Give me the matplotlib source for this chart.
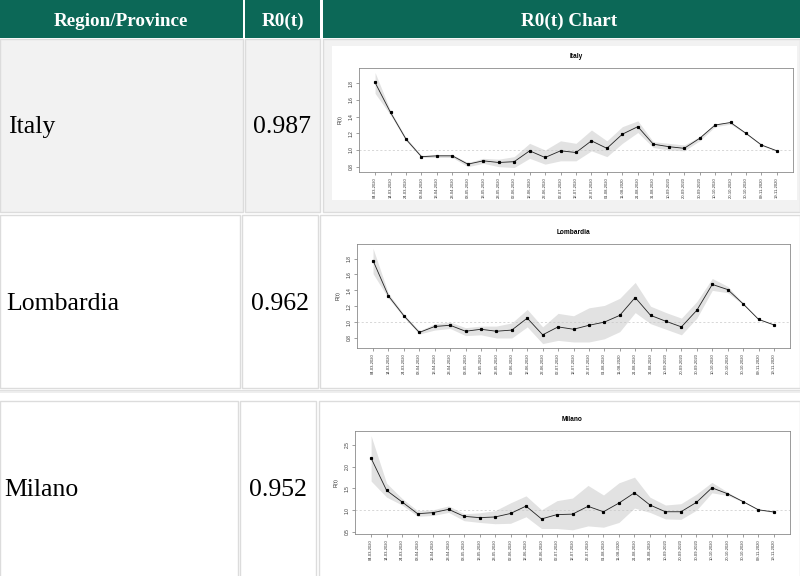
import matplotlib
matplotlib.use("Agg")
import matplotlib.pyplot as plt
from matplotlib.patches import Rectangle

# ======================
# data
# ======================
dates = ["04-03-2020", "14-03-2020", "24-03-2020", "03-04-2020", "13-04-2020",
         "23-04-2020", "03-05-2020", "13-05-2020", "23-05-2020", "02-06-2020",
         "12-06-2020", "22-06-2020", "02-07-2020", "12-07-2020", "22-07-2020",
         "01-08-2020", "11-08-2020", "21-08-2020", "31-08-2020", "10-09-2020",
         "20-09-2020", "30-09-2020", "10-10-2020", "20-10-2020", "30-10-2020",
         "09-11-2020", "19-11-2020"]

regions = ["Italy", "Lombardia", "Milano"]
r0_last = ["0.987", "0.962", "0.952"]

italy_r = [1.81, 1.45, 1.13, 0.92, 0.93, 0.93, 0.83, 0.87, 0.85, 0.86,
           0.99, 0.91, 0.99, 0.97, 1.11, 1.02, 1.19, 1.28, 1.07, 1.04,
           1.02, 1.14, 1.30, 1.33, 1.20, 1.06, 0.99]
italy_lo = [1.68, 1.42, 1.11, 0.91, 0.91, 0.91, 0.80, 0.84, 0.80, 0.79,
            0.90, 0.83, 0.87, 0.87, 0.99, 0.92, 1.08, 1.21, 1.03, 1.00,
            0.99, 1.11, 1.28, 1.31, 1.19, 1.05, 0.985]
italy_hi = [1.93, 1.47, 1.15, 0.935, 0.945, 0.945, 0.85, 0.90, 0.89, 0.92,
            1.08, 1.00, 1.11, 1.08, 1.24, 1.11, 1.28, 1.35, 1.10, 1.08,
            1.06, 1.16, 1.31, 1.34, 1.205, 1.065, 0.995]

lomb_r = [1.775, 1.33, 1.08, 0.87, 0.945, 0.96, 0.885, 0.91, 0.885, 0.90,
          1.05, 0.84, 0.94, 0.91, 0.96, 1.00, 1.085, 1.31, 1.085, 1.01,
          0.94, 1.15, 1.475, 1.41, 1.23, 1.035, 0.965]
lomb_lo = [1.61, 1.30, 1.06, 0.85, 0.90, 0.92, 0.83, 0.84, 0.80, 0.80,
           0.94, 0.73, 0.77, 0.75, 0.75, 0.79, 0.88, 1.12, 0.98, 0.91,
           0.84, 1.05, 1.40, 1.37, 1.22, 1.03, 0.96]
lomb_hi = [1.93, 1.36, 1.10, 0.89, 0.98, 1.00, 0.93, 0.95, 0.95, 0.99,
           1.16, 0.94, 1.11, 1.08, 1.18, 1.21, 1.30, 1.50, 1.20, 1.12,
           1.05, 1.26, 1.55, 1.45, 1.24, 1.04, 0.97]

milano_r = [2.195, 1.455, 1.19, 0.92, 0.945, 1.02, 0.86, 0.83, 0.845, 0.925,
            1.095, 0.80, 0.90, 0.91, 1.09, 0.965, 1.165, 1.40, 1.12, 0.965,
            0.965, 1.18, 1.515, 1.38, 1.20, 1.01, 0.96]
milano_lo = [1.67, 1.30, 1.12, 0.86, 0.88, 0.95, 0.76, 0.72, 0.69, 0.70,
             0.85, 0.58, 0.58, 0.55, 0.64, 0.61, 0.72, 1.05, 0.95, 0.80,
             0.79, 1.00, 1.40, 1.34, 1.19, 1.00, 0.95]
milano_hi = [2.71, 1.62, 1.27, 0.99, 1.01, 1.10, 0.92, 0.94, 0.99, 1.17,
             1.33, 1.01, 1.22, 1.28, 1.57, 1.35, 1.63, 1.76, 1.30, 1.12,
             1.15, 1.37, 1.64, 1.42, 1.21, 1.02, 0.97]

GREEN = "#0c6857"
BORDER = "#dcdcdc"
SERIF = "Liberation Serif"
SANS = "Liberation Sans"


def px_axes(fig, x0, y0, x1, y1):
    # pixel box (top-left origin) -> figure fraction
    return fig.add_axes([x0 / 800, 1 - y1 / 576, (x1 - x0) / 800, (y1 - y0) / 576])


def draw_chart(ax, title, r, lo, hi, ylim, yticks):
    x = list(range(len(dates)))
    ax.fill_between(x, lo, hi, color="#e2e2e2", linewidth=0, zorder=1)
    ax.axhline(1.0, color="#c8c8c8", linestyle=(0, (3, 3)), linewidth=0.5, zorder=2)
    ax.plot(x, r, color="#222222", linewidth=0.6, zorder=3)
    ax.plot(x, r, "s", color="black", markersize=1.3, zorder=4)

    ax.set_xlim(-1.04, len(dates) - 1 + 1.04)
    ax.set_ylim(*ylim)
    ax.set_xticks(x)
    ax.set_xticklabels(dates, rotation=90, fontsize=3.0, family=SANS, color="#333333")
    ax.set_yticks(yticks)
    ax.set_yticklabels([f"{v:.1f}" for v in yticks], rotation=90, va="center",
                       fontsize=3.5, family=SANS, color="#333333")
    ax.tick_params(length=2, width=0.4, color="#555555", pad=2)
    for s in ax.spines.values():
        s.set_color("#8a8a8a")
        s.set_linewidth(0.6)
    ax.set_ylabel("R(t)", fontsize=3.8, family=SANS, color="#333333", labelpad=4)
    ax.set_title(title, fontsize=4.7, fontweight="bold", family=SANS, pad=7)


fig = plt.figure(figsize=(8, 5.76), dpi=100)
bg = fig.add_axes([0, 0, 1, 1])
bg.set_xlim(0, 800)
bg.set_ylim(576, 0)
bg.axis("off")

# ---------- header ----------
bg.add_patch(Rectangle((0, 0), 800, 38, facecolor=GREEN, edgecolor="none"))
bg.add_patch(Rectangle((243, 0), 2, 38, facecolor="white", edgecolor="none"))
bg.add_patch(Rectangle((320, 0), 2.5, 38, facecolor="white", edgecolor="none"))
hdr = dict(color="white", fontsize=13.8, fontweight="bold", family=SERIF,
           ha="center", va="baseline")
bg.text(121, 26, "Region/Province", **hdr)
bg.text(283, 26, "R0(t)", **hdr)
bg.text(569, 26, "R0(t) Chart", **hdr)

# ---------- table cells ----------
# (top, bottom, col borders, background)
rows = [
    (39, 212, [0, 243, 245, 320, 323, 800], "#f2f2f2"),
    (215, 388, [0, 239.5, 241.5, 317.5, 320, 800], "white"),
    (401, 578, [0, 237.5, 239.5, 316, 319, 800], "white"),
]
for top, bottom, cols, fc in rows:
    for c0, c1 in [(cols[0], cols[1]), (cols[2], cols[3]), (cols[4], cols[5])]:
        bg.add_patch(Rectangle((c0, top), c1 - c0, bottom - top,
                               facecolor=fc, edgecolor=BORDER, linewidth=1.0))

# band between row 2 and row 3
bg.add_patch(Rectangle((0, 390), 800, 3, facecolor="#eeeeee", edgecolor="none"))
bg.plot([0, 800], [389.5, 389.5], color="#e0e0e0", linewidth=0.8)

# white picture area of the first chart
bg.add_patch(Rectangle((332, 46), 465, 154, facecolor="white", edgecolor="none"))

cell = dict(fontsize=18.5, family=SERIF, color="black", va="baseline")
baselines = [133, 310, 496]
lefts = [8, 6, 4]
centers = [282.5, 279.5, 277.5]
for name, val, yb, xl, xc in zip(regions, r0_last, baselines, lefts, centers):
    bg.text(xl, yb, name, ha="left", **cell)
    bg.text(xc, yb, val, ha="center", **cell)

# ---------- charts ----------
ax1 = px_axes(fig, 359, 68, 793, 172)
draw_chart(ax1, "Italy", italy_r, italy_lo, italy_hi,
           (0.736, 1.984), [0.8, 1.0, 1.2, 1.4, 1.6, 1.8])

ax2 = px_axes(fig, 357, 244, 790, 348)
draw_chart(ax2, "Lombardia", lomb_r, lomb_lo, lomb_hi,
           (0.674, 1.984), [0.8, 1.0, 1.2, 1.4, 1.6, 1.8])

ax3 = px_axes(fig, 355, 431, 790, 534)
draw_chart(ax3, "Milano", milano_r, milano_lo, milano_hi,
           (0.454, 2.82), [0.5, 1.0, 1.5, 2.0, 2.5])

fig.savefig("out.png", dpi=100)
